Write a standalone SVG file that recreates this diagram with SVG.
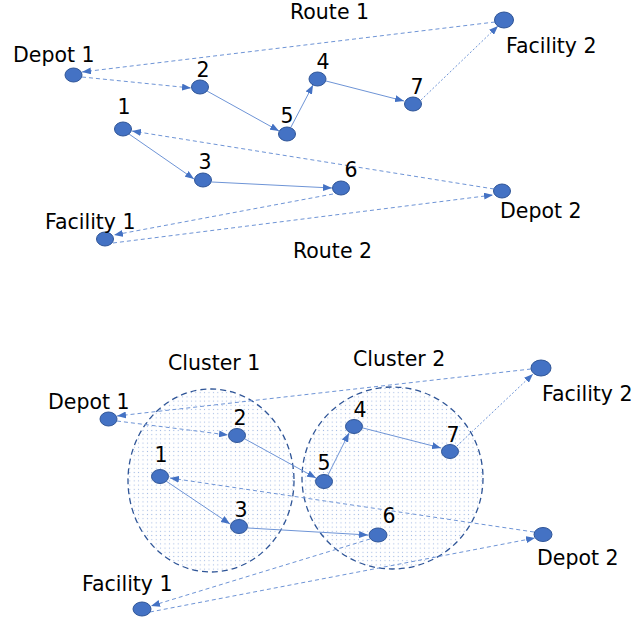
<svg xmlns="http://www.w3.org/2000/svg" width="636" height="623" viewBox="0 0 636 623">
  <style>
    text { font-family: "DejaVu Sans", "Liberation Sans", sans-serif; font-size: 20.5px; fill: #000; }
    .num { text-anchor: middle; }
    .node { fill: #4472C4; stroke: #2F5597; stroke-width: 1; }
    .edge { fill: none; stroke: #6E94D6; stroke-width: 1; marker-end: url(#arrow); }
    .dash { stroke-dasharray: 4 3; }
    .dot { stroke-dasharray: 2 2; }
    .cluster { fill: url(#dots); stroke: #2F5597; stroke-width: 1.3; stroke-dasharray: 6 4; }
  </style>
  <defs>
    <marker id="arrow" markerUnits="userSpaceOnUse" markerWidth="9" markerHeight="7" refX="9" refY="3.5" orient="auto">
      <path d="M0,0 L9,3.5 L0,7 z" fill="#4472C4"/>
    </marker>
    <pattern id="dots" patternUnits="userSpaceOnUse" width="4.4" height="4.2">
      <rect width="4.4" height="4.2" fill="#fff"/>
      <rect x="1.7" y="1.6" width="1" height="1" fill="#9DB5E2"/>
    </pattern>
  </defs>

  <!-- Upper layout: two routes -->
  <text x="290" y="19">Route 1</text>
  <text x="293" y="258">Route 2</text>

  <g id="top-connectors">
    <line class="edge dash" x1="495" y1="22" x2="82" y2="72"/>
    <line class="edge dash" x1="82" y1="77" x2="191" y2="88"/>
    <line class="edge" x1="207" y1="91" x2="279" y2="131"/>
    <line class="edge" x1="291" y1="127" x2="313" y2="85"/>
    <line class="edge" x1="326" y1="81" x2="404" y2="101"/>
    <line class="edge dot" x1="421" y1="100" x2="498" y2="26"/>
    <line class="edge dash" x1="494" y1="189" x2="132" y2="131"/>
    <line class="edge" x1="129" y1="134" x2="194" y2="179"/>
    <line class="edge" x1="212" y1="182" x2="332" y2="188"/>
    <line class="edge dash" x1="333" y1="194" x2="114" y2="235"/>
    <line class="edge dash" x1="113" y1="243" x2="493" y2="195"/>
  </g>

  <g id="top-depot1"><ellipse class="node" cx="73.5" cy="75" rx="8.5" ry="7"/><text x="13" y="62">Depot 1</text></g>
  <g id="top-n2"><ellipse class="node" cx="200" cy="87" rx="8.5" ry="7"/><text class="num" x="203" y="77">2</text></g>
  <g id="top-n1"><ellipse class="node" cx="123" cy="129" rx="8.5" ry="7"/><text class="num" x="124" y="114">1</text></g>
  <g id="top-n5"><ellipse class="node" cx="287" cy="134" rx="8.5" ry="7"/><text class="num" x="287" y="123">5</text></g>
  <g id="top-n4"><ellipse class="node" cx="317.5" cy="79" rx="8.5" ry="7"/><text class="num" x="323" y="69">4</text></g>
  <g id="top-n7"><ellipse class="node" cx="413" cy="104" rx="8.5" ry="7"/><text class="num" x="417" y="94">7</text></g>
  <g id="top-facility2"><ellipse class="node" cx="504" cy="20" rx="9.5" ry="8"/><text x="506" y="53">Facility 2</text></g>
  <g id="top-n3"><ellipse class="node" cx="203" cy="180" rx="8.5" ry="7"/><text class="num" x="205" y="169">3</text></g>
  <g id="top-n6"><ellipse class="node" cx="341" cy="188" rx="8.5" ry="7"/><text class="num" x="351" y="177">6</text></g>
  <g id="top-facility1"><ellipse class="node" cx="105" cy="239" rx="8.5" ry="7"/><text x="45" y="229">Facility 1</text></g>
  <g id="top-depot2"><ellipse class="node" cx="502" cy="191" rx="8.5" ry="7"/><text x="500" y="218">Depot 2</text></g>

  <!-- Lower layout: same routes grouped into clusters -->
  <g id="cluster1"><ellipse class="cluster" cx="211" cy="480.5" rx="83" ry="91.5"/><text x="168" y="370">Cluster 1</text></g>
  <g id="cluster2"><ellipse class="cluster" cx="392.5" cy="478" rx="90.5" ry="91"/><text x="353" y="366">Cluster 2</text></g>

  <g id="bottom-connectors">
    <line class="edge dash" x1="531" y1="369" x2="117" y2="416"/>
    <line class="edge dash" x1="117" y1="421" x2="228" y2="435"/>
    <line class="edge" x1="245" y1="439" x2="316" y2="478"/>
    <line class="edge" x1="328" y1="475" x2="349" y2="433"/>
    <line class="edge" x1="363" y1="428" x2="441" y2="448"/>
    <line class="edge dot" x1="457" y1="446" x2="533" y2="374"/>
    <line class="edge dash" x1="534" y1="532" x2="170" y2="478"/>
    <line class="edge" x1="166" y1="481" x2="230" y2="524"/>
    <line class="edge" x1="248" y1="528" x2="368" y2="535"/>
    <line class="edge dash" x1="370" y1="539" x2="151" y2="606"/>
    <line class="edge dash" x1="150" y1="612" x2="535" y2="538"/>
  </g>

  <g id="bottom-depot1"><ellipse class="node" cx="108.5" cy="419" rx="8.5" ry="7"/><text x="48" y="409">Depot 1</text></g>
  <g id="bottom-n2"><ellipse class="node" cx="237" cy="435.5" rx="8.5" ry="7"/><text class="num" x="240" y="425">2</text></g>
  <g id="bottom-n1"><ellipse class="node" cx="160" cy="476.5" rx="8.5" ry="7"/><text class="num" x="161" y="462">1</text></g>
  <g id="bottom-n3"><ellipse class="node" cx="239" cy="526.5" rx="8.5" ry="7"/><text class="num" x="241" y="517">3</text></g>
  <g id="bottom-n5"><ellipse class="node" cx="324" cy="481.5" rx="8.5" ry="7"/><text class="num" x="324" y="470">5</text></g>
  <g id="bottom-n4"><ellipse class="node" cx="354" cy="426.5" rx="8.5" ry="7"/><text class="num" x="360" y="417">4</text></g>
  <g id="bottom-n7"><ellipse class="node" cx="450" cy="451.5" rx="8.5" ry="7"/><text class="num" x="453" y="442">7</text></g>
  <g id="bottom-n6"><ellipse class="node" cx="378" cy="535" rx="9" ry="7"/><text class="num" x="389" y="523">6</text></g>
  <g id="bottom-facility2"><ellipse class="node" cx="541" cy="368" rx="10" ry="8"/><text x="542" y="401">Facility 2</text></g>
  <g id="bottom-depot2"><ellipse class="node" cx="543" cy="534.5" rx="9" ry="7"/><text x="537" y="565">Depot 2</text></g>
  <g id="bottom-facility1"><ellipse class="node" cx="142" cy="609" rx="9" ry="7"/><text x="82" y="591">Facility 1</text></g>
</svg>
